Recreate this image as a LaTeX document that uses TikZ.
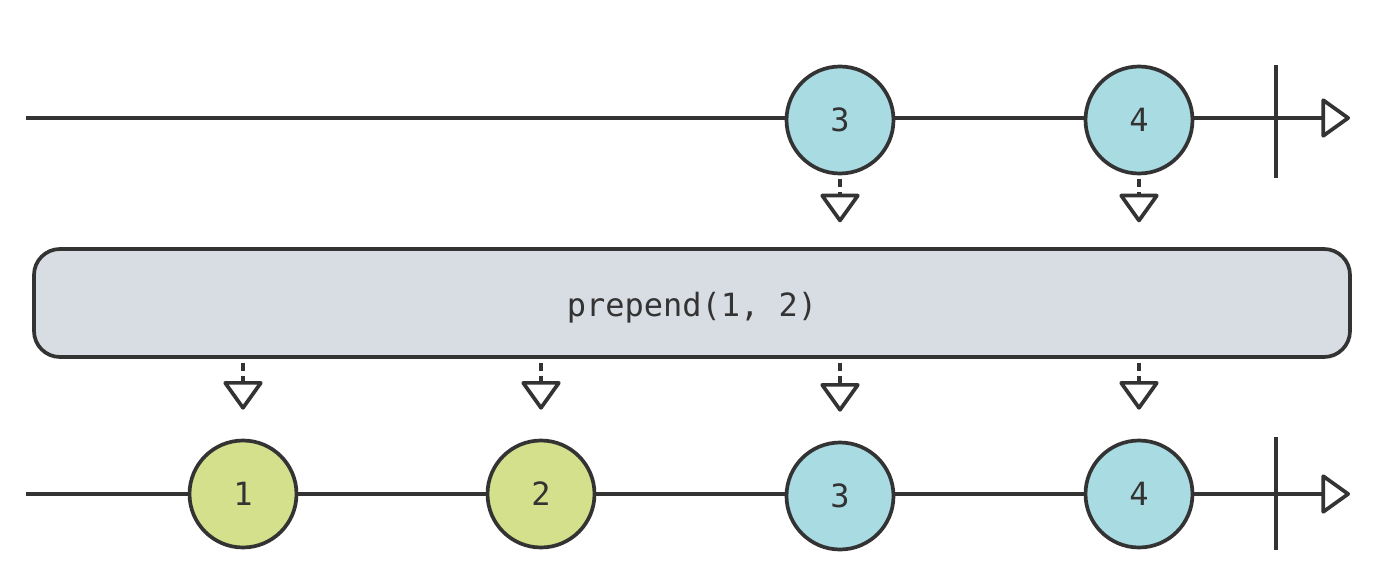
\documentclass[tikz,border=0pt]{standalone}
\usepackage{fontspec}
\setmonofont{DejaVu Sans Mono}
\usetikzlibrary{arrows.meta,calc}

\definecolor{ink}{HTML}{333333}
\definecolor{bluemarble}{HTML}{A9DBE3}
\definecolor{greenmarble}{HTML}{D5E08C}
\definecolor{opfill}{HTML}{D8DCE3}

\tikzset{
  marble/.style={circle,draw=ink,line width=3.7pt,minimum size=107pt,inner sep=0pt,
    text=ink,font=\ttfamily\fontsize{32}{32}\selectfont},
  timeline/.style={draw=ink,line width=3.7pt,
    -{Triangle[open,round,length=30pt,width=42pt]}},
  emit/.style={draw=ink,line width=3.7pt,dash pattern=on 8pt off 5pt,
    -{Triangle[open,round,length=30pt,width=42pt]}},
  opbox/.style={draw=ink,fill=opfill,line width=3.7pt,rounded corners=26pt,
    minimum width=1316pt,minimum height=108pt,text=ink,
    text height=26pt,text depth=0pt,
    font=\ttfamily\fontsize{32}{32}\selectfont}
}

\begin{document}
\begin{tikzpicture}[x=1pt,y=-1pt]
\useasboundingbox (0,0) rectangle (1376,586);

% source stream
\coordinate (in start) at (26,118);
\coordinate (in end) at (1350,118);
\coordinate (in top) at (1276,65);
\coordinate (in bottom) at (1276,178);
\draw[timeline] (in start) -- (in end);
\draw[draw=ink,line width=3.7pt] (in top) -- (in bottom);
\node[marble,fill=bluemarble] (a3) at (840,120) {3};
\node[marble,fill=bluemarble] (a4) at (1139,120) {4};

\draw[emit] ([yshift=-4pt]a3.south) -- ([yshift=-47pt]a3.south);
\draw[emit] ([yshift=-4pt]a4.south) -- ([yshift=-47pt]a4.south);

% operator
\node[opbox] (op) at (692,303) {prepend(1, 2)};

% result stream
\coordinate (out start) at (26,494);
\coordinate (out end) at (1350,494);
\coordinate (out top) at (1276,437);
\coordinate (out bottom) at (1276,550);
\draw[timeline] (out start) -- (out end);
\draw[draw=ink,line width=3.7pt] (out top) -- (out bottom);
\node[marble,fill=greenmarble] (b1) at (243,494) {1};
\node[marble,fill=greenmarble] (b2) at (541,494) {2};
\node[marble,fill=bluemarble] (b3) at (840,496) {3};
\node[marble,fill=bluemarble] (b4) at (1139,494) {4};

\foreach \m in {b1,b2,b3,b4}
  \draw[emit] ($(\m |- op.south)+(0,4)$) -- ([yshift=29pt]\m.north);
\end{tikzpicture}
\end{document}
